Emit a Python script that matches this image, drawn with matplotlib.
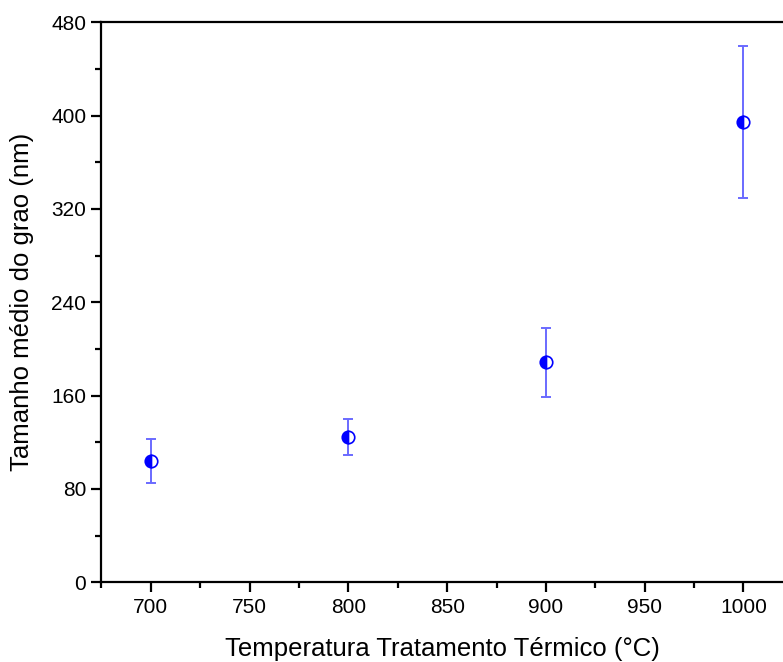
import matplotlib as mpl
import matplotlib.pyplot as plt
from matplotlib.ticker import MultipleLocator

mpl.rcParams.update({
    'font.family': ['Liberation Sans', 'DejaVu Sans'],
    'xtick.direction': 'out',
    'ytick.direction': 'out',
})

# temperatura do tratamento (°C) e tamanho medio do grao (nm)
temperatura = [700, 800, 900, 1000]
tamanho = [104, 124.5, 188.5, 394.5]
erro = [18.5, 15.3, 29.5, 65.5]

fig = plt.figure(figsize=(7.83, 6.62), dpi=100)
ax = fig.add_axes([0.1296, 0.1204, 0.8704, 0.8459])

ax.errorbar(temperatura, tamanho, yerr=erro, fmt='none', ecolor='#6a6aff',
            elinewidth=1.4, capsize=3.6, capthick=1.4, zorder=2)
ax.plot(temperatura, tamanho, 'o', color='#0000ff', markersize=9,
        fillstyle='left', markerfacecoloralt='white', markeredgecolor='#0000ff',
        markeredgewidth=1.2, zorder=3)

ax.set_xlim(675, 1020)
ax.set_ylim(0, 480)
ax.xaxis.set_major_locator(MultipleLocator(50))
ax.xaxis.set_minor_locator(MultipleLocator(25))
ax.yaxis.set_major_locator(MultipleLocator(80))
ax.yaxis.set_minor_locator(MultipleLocator(40))

for s in ['left', 'bottom', 'top']:
    ax.spines[s].set_linewidth(1.6)
ax.spines['right'].set_visible(False)

ax.tick_params(which='major', length=7, width=1.6, labelsize=15, pad=4)
ax.tick_params(which='minor', length=4, width=1.6)
ax.tick_params(top=False, which='both')

ax.set_xlabel('Temperatura Tratamento Térmico (°C)', fontsize=18.5, labelpad=15)
ax.set_ylabel('Tamanho médio do grao (nm)', fontsize=18.5, labelpad=12)

fig.savefig('out.png')
